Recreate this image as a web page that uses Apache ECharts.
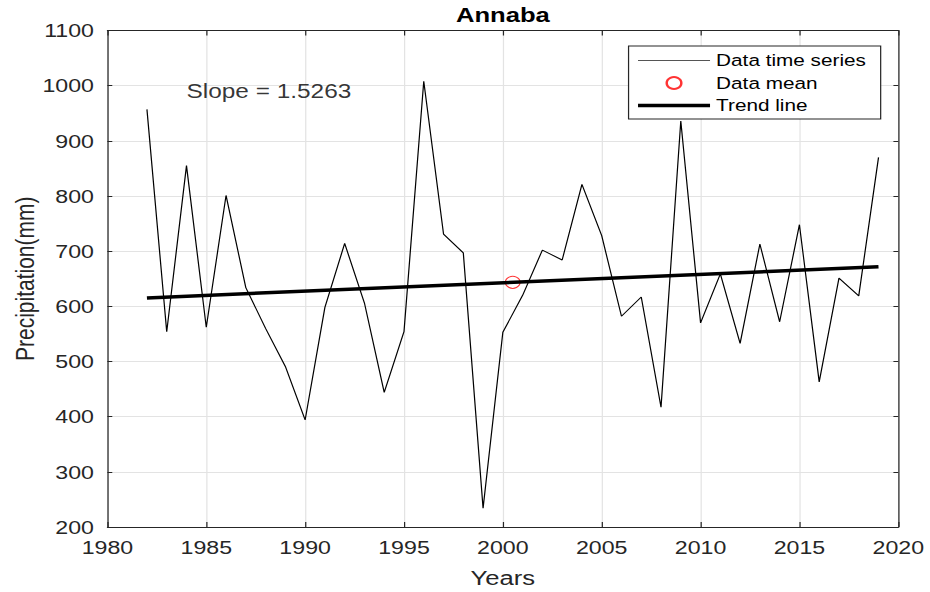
<!DOCTYPE html>
<html>
<head>
<meta charset="utf-8">
<title>Annaba</title>
<script src="https://cdn.jsdelivr.net/npm/echarts@6/dist/echarts.min.js"></script>
<style>
  html, body { margin: 0; padding: 0; background: #fff; }
  #wrap { width: 930px; height: 592px; overflow: hidden; position: relative; background: #fff; }
  /* the figure is laid out on a narrower canvas and widened horizontally */
  #chart { width: 762px; height: 592px; transform: scaleX(1.2205); transform-origin: 0 0; }
</style>
</head>
<body>
<div id="wrap"><div id="chart"></div></div>
<script>
// Annual precipitation at Annaba
const years = [1982, 1983, 1984, 1985, 1986, 1987, 1988, 1989, 1990, 1991,
               1992, 1993, 1994, 1995, 1996, 1997, 1998, 1999, 2000, 2001,
               2002, 2003, 2004, 2005, 2006, 2007, 2008, 2009, 2010, 2011,
               2012, 2013, 2014, 2015, 2016, 2017, 2018, 2019];
const precipitation = [957, 554, 855, 562, 801, 634, 560, 491, 394, 598,
                       714, 606, 444, 554, 1008, 731, 697, 234, 553, 620,
                       702, 684, 821, 728, 582, 617, 417, 936, 570, 659,
                       533, 713, 572, 748, 463, 651, 619, 870];
const trendSlope = 1.5263;
const slopeText = 'Slope = 1.5263';
const slopeTextPos = [1984, 990];
const xRange = [1980, 2020, 5];
const yRange = [200, 1100, 100];
const seriesNames = ['Data time series', 'Data mean', 'Trend line'];
const titleText = 'Annaba';
const xLabel = 'Years';
const yLabel = 'Precipitation(mm)';

// mean point and the trend line through it
const meanYear = years.reduce((a, b) => a + b, 0) / years.length;
const meanValue = precipitation.reduce((a, b) => a + b, 0) / precipitation.length;
const trendAt = y => meanValue + trendSlope * (y - meanYear);
const firstYear = years[0], lastYear = years[years.length - 1];

const FONT = '"Liberation Sans", Arial, Helvetica, sans-serif';
const AXIS_COLOR = '#262626';
const GRID_COLOR = '#e3e3e3';
const GRID_LEFT = 88, GRID_RIGHT = 26, GRID_TOP = 30.5, GRID_BOTTOM = 65;
const PLOT_CENTER_X = (GRID_LEFT + (762 - GRID_RIGHT)) / 2;

const chart = echarts.init(document.getElementById('chart'), null, { renderer: 'svg' });

const tickStyle = len => ({ show: true, inside: true, length: len, lineStyle: { color: AXIS_COLOR, width: 1 } });
const boxAxis = len => ({
  axisLine: { show: true, onZero: false, lineStyle: { color: AXIS_COLOR, width: 1 } },
  axisTick: tickStyle(len),
  axisLabel: { show: false },
  splitLine: { show: false }
});
const plain = v => String(v);
const hiddenSymbol = { color: 'transparent', borderColor: 'transparent', borderWidth: 0, opacity: 0 };

chart.setOption({
  animation: false,
  backgroundColor: '#fff',
  grid: {
    left: GRID_LEFT, right: GRID_RIGHT, top: GRID_TOP, bottom: GRID_BOTTOM,
    containLabel: false, outerBoundsMode: 'none'
  },
  graphic: [{
    type: 'text',
    x: PLOT_CENTER_X,
    y: 15,
    style: {
      text: titleText,
      font: 'bold 21px ' + FONT,
      fill: '#000',
      align: 'center',
      verticalAlign: 'middle',
      textAlign: 'center',
      textVerticalAlign: 'middle'
    }
  }],
  legend: {
    orient: 'vertical',
    left: 515,
    top: 46,
    padding: [6, 12, 5, 6],
    itemWidth: 59,
    itemHeight: 12,
    itemGap: 5.5,
    borderColor: AXIS_COLOR,
    borderWidth: 1,
    backgroundColor: '#fff',
    textStyle: { fontFamily: FONT, fontSize: 17, color: '#000', lineHeight: 17 },
    data: [
      { name: seriesNames[0], itemStyle: hiddenSymbol, lineStyle: { color: '#555', width: 1 } },
      { name: seriesNames[1] },
      { name: seriesNames[2], itemStyle: hiddenSymbol, lineStyle: { color: '#000', width: 3.5 } }
    ]
  },
  xAxis: [{
    type: 'value',
    position: 'bottom',
    min: xRange[0], max: xRange[1], interval: xRange[2],
    name: xLabel,
    nameLocation: 'middle',
    nameGap: 40,
    nameMoveOverlap: false,
    nameTextStyle: { fontFamily: FONT, fontSize: 21, color: AXIS_COLOR },
    axisLine: { show: true, onZero: false, lineStyle: { color: AXIS_COLOR, width: 1 } },
    axisTick: tickStyle(5),
    axisLabel: { fontFamily: FONT, fontSize: 19, color: AXIS_COLOR, margin: 11, formatter: plain },
    splitLine: { show: true, lineStyle: { color: GRID_COLOR, width: 1 } }
  }, Object.assign({
    type: 'value', position: 'top',
    min: xRange[0], max: xRange[1], interval: xRange[2]
  }, boxAxis(5))],
  yAxis: [{
    type: 'value',
    position: 'left',
    min: yRange[0], max: yRange[1], interval: yRange[2],
    name: yLabel,
    nameLocation: 'middle',
    nameGap: 57,
    nameMoveOverlap: false,
    nameTextStyle: { fontFamily: FONT, fontSize: 21, color: AXIS_COLOR },
    axisLine: { show: true, onZero: false, lineStyle: { color: AXIS_COLOR, width: 1 } },
    axisTick: tickStyle(4),
    axisLabel: { fontFamily: FONT, fontSize: 19, color: AXIS_COLOR, margin: 11, formatter: plain },
    splitLine: { show: true, lineStyle: { color: GRID_COLOR, width: 1 } }
  }, Object.assign({
    type: 'value', position: 'right',
    min: yRange[0], max: yRange[1], interval: yRange[2]
  }, boxAxis(4))],
  series: [
    {
      name: seriesNames[0],
      type: 'line',
      xAxisIndex: 0, yAxisIndex: 0,
      data: years.map((y, i) => [y, precipitation[i]]),
      symbol: 'none',
      showSymbol: false,
      lineStyle: { color: '#000', width: 1 },
      itemStyle: { color: '#000' },
      z: 2
    },
    {
      name: seriesNames[1],
      type: 'scatter',
      xAxisIndex: 0, yAxisIndex: 0,
      data: [[meanYear, meanValue]],
      symbol: 'circle',
      symbolSize: 12,
      itemStyle: { color: '#fff', borderColor: '#ff0000', borderWidth: 1 },
      z: 3
    },
    {
      name: seriesNames[2],
      type: 'line',
      xAxisIndex: 0, yAxisIndex: 0,
      data: [[firstYear, trendAt(firstYear)], [lastYear, trendAt(lastYear)]],
      symbol: 'none',
      showSymbol: false,
      lineStyle: { color: '#000', width: 3.5 },
      itemStyle: { color: '#000' },
      z: 4
    },
    {
      name: 'slope-annotation',
      type: 'scatter',
      xAxisIndex: 0, yAxisIndex: 0,
      silent: true,
      data: [slopeTextPos],
      symbolSize: 0,
      itemStyle: { color: 'transparent' },
      label: {
        show: true,
        position: [0, 0],
        align: 'left',
        verticalAlign: 'middle',
        formatter: slopeText,
        fontFamily: FONT,
        fontSize: 20,
        color: '#000'
      },
      z: 5
    }
  ]
});
</script>
</body>
</html>
